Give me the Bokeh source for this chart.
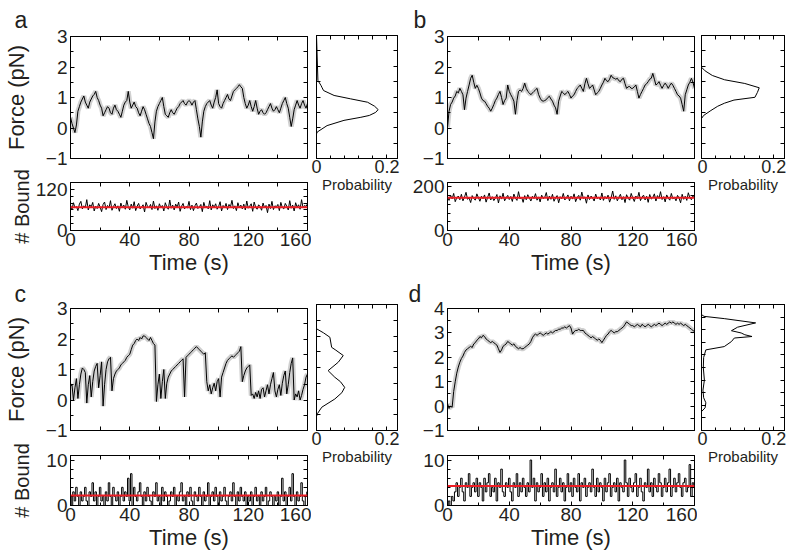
from bokeh.plotting import figure
from bokeh.models import Range1d, LinearAxis, FixedTicker, Span
from bokeh.layouts import row, column
from bokeh.embed import file_html
from bokeh.resources import INLINE

# ---------------- data ----------------
time_ticks = [0, 20, 40, 60, 80, 100, 120, 140, 160]
time_labels = [0, 40, 80, 120, 160]

a_force = [0.35, 0.15, 0.0, -0.15, 0.1, 0.55, 0.7, 0.85, 0.95, 1.05,
           0.85, 0.75, 0.65, 0.85, 0.95, 1.05, 1.1, 1.2, 1.0, 0.9,
           0.75, 0.65, 0.4, 0.5, 0.6, 0.7, 0.65, 0.5, 0.45, 0.65,
           0.75, 0.6, 0.55, 0.45, 0.35, 0.55, 0.75, 0.85, 0.9, 1.2,
           0.85, 0.65, 0.75, 0.85, 0.7, 0.65, 0.5, 0.4, 0.55, 0.7,
           0.6, 0.45, 0.3, 0.15, 0.05, -0.15, -0.35, 0.2, 0.55, 0.7,
           0.8, 0.9, 1.0, 0.7, 0.45, 0.4, 0.35, 0.5, 0.6, 0.5,
           0.45, 0.55, 0.65, 0.7, 0.8, 0.85, 0.9, 0.8, 0.75, 0.85,
           0.9, 0.85, 0.75, 0.85, 0.9, 0.6, 0.3, 0.05, -0.3, 0.2,
           0.55, 0.7, 0.8, 0.85, 0.9, 0.75, 0.65, 0.85, 1.0, 1.25,
           0.8, 0.7, 0.65, 0.8, 0.9, 1.0, 1.1, 0.95, 0.9, 1.05,
           1.2, 1.25, 1.3, 1.35, 1.42, 1.35, 1.3, 1.0, 0.8, 0.65,
           0.75, 0.9, 0.7, 0.55, 0.7, 0.9, 0.65, 0.45, 0.55, 0.6,
           0.5, 0.45, 0.5, 0.6, 0.7, 0.8, 0.65, 0.55, 0.6, 0.7,
           0.6, 0.5, 0.65, 0.8, 0.9, 1.0, 0.8, 0.65, 0.35, 0.05,
           0.3, 0.6, 0.75, 0.9, 0.75, 0.65, 0.8, 0.9, 0.75, 0.65,
           0.8]
b_force = [0.02, 0.55, 0.77, 0.85, 0.98, 1.05, 1.2, 1.15, 1.3, 1.2,
           1.09, 0.6, 0.98, 1.2, 1.41, 1.63, 1.73, 1.5, 1.3, 1.4,
           1.3, 1.15, 0.98, 0.9, 0.88, 0.8, 0.71, 0.65, 0.55, 0.65,
           0.77, 0.9, 0.98, 1.1, 1.2, 1.0, 0.77, 0.9, 0.98, 1.41,
           1.2, 1.09, 1.0, 0.88, 0.45, 0.9, 1.2, 1.25, 1.2, 1.3,
           1.47, 1.3, 1.2, 1.15, 1.09, 1.15, 1.2, 1.25, 1.3, 1.1,
           0.98, 0.9, 0.88, 0.9, 0.93, 1.0, 1.04, 0.95, 0.88, 0.75,
           0.66, 0.45, 0.88, 1.05, 1.2, 1.15, 1.09, 1.15, 1.2, 1.1,
           0.98, 1.05, 1.09, 1.2, 1.3, 1.35, 1.41, 1.3, 1.2, 1.45,
           1.63, 1.45, 1.3, 1.35, 1.41, 1.25, 1.09, 1.15, 1.2, 1.3,
           1.41, 1.5, 1.63, 1.55, 1.52, 1.6, 1.73, 1.65, 1.63, 1.6,
           1.63, 1.55, 1.52, 1.6, 1.63, 1.45, 1.3, 1.35, 1.36, 1.3,
           1.3, 1.35, 1.41, 1.2, 0.98, 1.1, 1.2, 1.3, 1.41, 1.45,
           1.52, 1.6, 1.63, 1.79, 1.6, 1.41, 1.45, 1.52, 1.4, 1.3,
           1.4, 1.47, 1.4, 1.3, 1.4, 1.47, 1.4, 1.3, 1.2, 1.09,
           1.05, 0.98, 0.77, 0.55, 1.09, 1.25, 1.41, 1.5, 1.63, 1.5,
           1.3]
c_force = [0.45, 0.5, 0.0, 0.4, 0.7, 0.05, 0.5, 0.85, 1.05, 1.0,
           0.9, -0.1, 0.5, 0.8, 0.1, 0.6, 0.95, 1.1, 1.2, 0.4,
           0.8, 1.25, -0.2, 0.5, 1.0, 1.25, 1.35, 1.4, 0.3, 0.7,
           0.85, 0.95, 1.0, 1.05, 1.15, 1.2, 1.25, 1.3, 1.4, 1.45,
           1.5, 1.65, 1.8, 1.85, 1.95, 2.0, 1.95, 2.05, 2.0, 2.1,
           2.1, 2.05, 2.0, 1.95, 2.05, 1.95, 1.85, 1.8, -0.05, 0.5,
           0.85, 0.05, 0.6, 1.0, 0.05, 0.55, 0.75, 0.85, 0.95, 1.0,
           1.05, 1.1, 1.15, 1.2, 1.25, 1.3, 1.35, 0.1, 1.4, 1.45,
           1.5, 1.55, 1.6, 1.65, 1.7, 1.75, 1.7, 1.65, 1.6, 1.55,
           1.5, 1.55, 0.6, 0.3, 0.5, 0.2, 0.4, 0.55, 0.3, 0.6,
           0.7, 0.1, 0.75, 0.9, 1.05, 1.2, 1.3, 1.35, 1.4, 1.45,
           1.4, 1.45, 1.5, 1.55, 1.6, 1.75, 0.6, 0.8, 0.95, 1.05,
           1.1, 1.15, 0.15, 0.2, 0.05, 0.25, 0.1, 0.3, 0.05, 0.35,
           0.4, 0.1, 0.3, 0.5, 0.2, 0.5, 0.7, 0.9, 0.3, 0.1,
           0.35, 0.5, 0.15, 0.55, 0.8, 0.95, 0.2, 0.5, 0.9, 1.2,
           1.38, 0.0, 0.2, 0.1, 0.3, 0.0, 0.15, 0.35, 0.5, 0.75,
           0.85]
d_force = [0.1, -0.1, 0.0, -0.05, 0.6, 1.0, 1.35, 1.6, 1.8, 1.95,
           2.05, 2.2, 2.3, 2.35, 2.4, 2.45, 2.4, 2.55, 2.6, 2.7,
           2.75, 2.85, 2.8, 2.9, 2.85, 2.75, 2.7, 2.65, 2.6, 2.65,
           2.6, 2.55, 2.5, 2.35, 2.2, 2.3, 2.45, 2.5, 2.55, 2.65,
           2.6, 2.55, 2.5, 2.55, 2.45, 2.4, 2.35, 2.4, 2.35, 2.35,
           2.4, 2.45, 2.5, 2.55, 2.65, 2.8, 2.9, 2.95, 2.9, 2.95,
           3.0, 2.95, 2.9, 2.95, 3.0, 2.95, 3.0, 3.05, 3.0, 3.05,
           3.1, 3.1, 3.15, 3.15, 3.2, 3.2, 3.25, 3.2, 3.25, 3.3,
           3.2, 2.95, 3.05, 3.1, 3.1, 3.15, 3.1, 3.1, 3.1, 3.0,
           2.95, 2.9, 2.85, 2.8, 2.85, 2.8, 2.75, 2.7, 2.75, 2.7,
           2.6, 2.7, 2.8, 2.9, 2.95, 3.05, 3.1, 3.05, 3.0, 3.05,
           3.05, 3.1, 3.15, 3.2, 3.25, 3.35, 3.45, 3.4, 3.35, 3.3,
           3.3, 3.25, 3.3, 3.35, 3.3, 3.25, 3.35, 3.3, 3.25, 3.3,
           3.35, 3.3, 3.25, 3.3, 3.35, 3.3, 3.35, 3.4, 3.35, 3.3,
           3.35, 3.4, 3.35, 3.4, 3.45, 3.4, 3.45, 3.4, 3.35, 3.4,
           3.35, 3.4, 3.35, 3.3, 3.35, 3.3, 3.25, 3.2, 3.15, 3.1,
           3.05]

a_bound = [74, 62, 81, 66, 70, 58, 77, 85, 63, 72, 67, 90, 60, 75, 69, 82, 57, 71, 64, 79,
           68, 55, 76, 83, 61, 73, 66, 87, 59, 70, 78, 64, 72, 56, 80, 67, 74, 62, 88, 69,
           60, 77, 65, 84, 58, 71, 79, 63, 68, 75, 54, 82, 70, 66, 76, 61, 86, 64, 72, 59,
           78, 67, 73, 57, 81, 69, 62, 89, 65, 74, 60, 77, 68, 83, 56, 71, 79, 63, 70, 66,
           85, 61, 74, 58, 72, 80, 64, 69, 76, 55, 82, 67, 71, 63, 87, 60, 75, 68, 78, 62,
           70, 84, 57, 73, 66, 79, 61, 76, 69, 88, 64, 72, 58, 81, 67, 74, 63, 77, 60, 86,
           65, 71, 78, 56, 83, 68, 62, 75, 70, 59, 80, 66, 73, 52, 77, 64, 85, 61, 72, 69,
           76, 58, 82, 67, 63, 79, 71, 60, 87, 65, 74, 57, 81, 68, 75, 62, 90, 66, 73, 70,
           78]
b_bound = [155, 138, 162, 145, 170, 132, 150, 158, 141, 166, 136, 153, 175, 143, 149, 128, 160, 147, 139, 168,
           151, 134, 157, 146, 163, 130, 152, 172, 140, 155, 137, 148, 165, 126, 159, 144, 171, 136, 150, 161,
           142, 156, 133, 167, 148, 138, 178, 145, 153, 129, 160, 141, 164, 150, 135, 157, 147, 169, 139, 154,
           131, 162, 146, 152, 174, 137, 158, 143, 166, 134, 150, 160, 127, 155, 145, 170, 140, 149, 163, 136,
           157, 144, 168, 132, 151, 161, 139, 176, 147, 154, 125, 163, 142, 158, 149, 135, 167, 146, 153, 140,
           172, 138, 156, 145, 162, 130, 150, 181, 143, 159, 136, 152, 166, 141, 155, 128, 164, 148, 139, 170,
           149, 133, 158, 146, 175, 137, 153, 162, 140, 157, 129, 165, 144, 151, 168, 135, 160, 147, 178, 142,
           155, 131, 163, 148, 139, 170, 145, 152, 136, 161, 149, 127, 166, 143, 157, 138, 173, 150, 141, 160,
           152]
c_bound = [2, 0, 3, 1, 4, 2, 0, 3, 1, 2, 4, 1, 0, 3, 2, 5, 1, 3, 0, 2,
           4, 1, 2, 0, 3, 1, 5, 2, 0, 4, 2, 1, 3, 0, 2, 4, 1, 3, 2, 6,
           1, 7, 0, 4, 2, 1, 3, 5, 2, 0, 3, 1, 4, 2, 1, 0, 3, 2, 5, 1,
           2, 0, 4, 1, 3, 2, 0, 1, 3, 2, 4, 0, 2, 1, 3, 5, 1, 2, 0, 3,
           2, 4, 1, 0, 3, 2, 1, 4, 2, 0, 3, 1, 2, 5, 0, 2, 3, 1, 4, 2,
           0, 3, 1, 2, 4, 1, 0, 2, 3, 1, 5, 2, 0, 3, 1, 4, 2, 1, 3, 0,
           2, 1, 3, 0, 2, 4, 1, 2, 0, 3, 1, 2, 4, 0, 1, 3, 2, 0, 2, 1,
           3, 0, 2, 6, 1, 3, 0, 2, 4, 1, 7, 2, 0, 3, 1, 2, 5, 1, 0, 2,
           3]
d_bound = [0, 1, 0, 2, 1, 3, 5, 2, 4, 6, 3, 1, 5, 4, 7, 2, 4, 5, 3, 6,
           2, 5, 4, 1, 6, 3, 5, 7, 2, 4, 3, 6, 1, 5, 4, 8, 3, 2, 5, 4,
           6, 3, 1, 5, 4, 7, 2, 5, 3, 6, 4, 2, 5, 3, 10, 4, 6, 1, 5, 3,
           4, 7, 2, 5, 3, 6, 1, 4, 5, 3, 8, 2, 4, 6, 3, 5, 1, 4, 7, 3,
           5, 2, 6, 4, 3, 7, 1, 5, 4, 6, 2, 4, 5, 3, 8, 4, 2, 6, 3, 5,
           4, 1, 6, 3, 5, 7, 2, 4, 5, 3, 6, 1, 5, 4, 3, 10, 5, 2, 6, 4,
           3, 5, 7, 2, 4, 6, 3, 1, 5, 4, 8, 3, 5, 2, 6, 4, 3, 7, 5, 2,
           4, 6, 3, 5, 8, 2, 4, 6, 3, 5, 7, 4, 2, 5, 6, 3, 4, 9, 2, 5,
           4]
a_bound_mean = 68
b_bound_mean = 150
c_bound_mean = 2.2
d_bound_mean = 4.3

a_hist_force = [-1.0, -0.2, -0.14, 0.07, 0.24, 0.34, 0.40, 0.50, 0.59, 0.70, 0.83, 0.94, 1.05, 1.21, 1.30, 1.37, 1.54, 3.0]
a_hist_prob = [0, 0, 0.002, 0.03, 0.078, 0.126, 0.15, 0.168, 0.175, 0.165, 0.145, 0.097, 0.05, 0.02, 0.016, 0.013, 0.004, 0]
b_hist_force = [-1.0, 0.30, 0.40, 0.56, 0.70, 0.80, 0.90, 0.99, 1.15, 1.30, 1.44, 1.56, 1.70, 1.85, 1.97, 3.0]
b_hist_prob = [0, 0, 0.006, 0.026, 0.045, 0.064, 0.09, 0.148, 0.155, 0.16, 0.12, 0.064, 0.03, 0.01, 0, 0]
c_hist_force = [-1.0, -0.55, -0.46, -0.26, 0.0, 0.2, 0.37, 0.55, 0.69, 0.9, 1.17, 1.38, 1.55, 1.64, 1.96, 2.1, 2.23, 3.0]
c_hist_prob = [0, 0, 0.003, 0.015, 0.052, 0.072, 0.08, 0.068, 0.052, 0.033, 0.062, 0.076, 0.055, 0.043, 0.038, 0.02, 0, 0]
d_hist_force = [-1.0, -0.25, -0.1, 0.1, 0.3, 0.6, 1.0, 1.5, 1.9, 2.2, 2.33, 2.53, 2.67, 2.73, 2.80, 2.87, 2.96, 3.1, 3.27, 3.44, 3.53, 3.6, 4.0]
d_hist_prob = [0, 0, 0.01, 0.012, 0.006, 0.004, 0.008, 0.005, 0.006, 0.012, 0.063, 0.083, 0.091, 0.14, 0.12, 0.11, 0.083, 0.1, 0.15, 0.063, 0.007, 0, 0]

# ---------------- style ----------------
FONT = "Liberation Sans"
TXT = "#231f20"
RED = "#ed1c24"
GREY = "#c4c4c4"

COLS = [dict(fw=311, fbl=61, fbr=4, hw=90, hbl=5, hbr=4),
        dict(fw=296, fbl=46, fbr=3, hw=89, hbl=4, hbr=2)]
ROWS = [dict(fh=169, fbt=35, fbb=11, bh=108, bbt=13, bbb=47, hh=277, hbt=35, hbb=119, tsd=8),
        dict(fh=164, fbt=27, fbb=11, bh=115, bbt=14, bbb=51, hh=279, hbt=27, hbb=126, tsd=3)]


def base_fig(w, h, bl, br, bt, bb, xr, yr):
    p = figure(width=w, height=h, x_range=Range1d(*xr), y_range=Range1d(*yr),
               output_backend="svg", toolbar_location=None, tools="",
               min_border_left=bl, min_border_right=br,
               min_border_top=bt, min_border_bottom=bb)
    p.xgrid.visible = False
    p.ygrid.visible = False
    p.outline_line_color = "black"
    p.outline_line_alpha = 1
    p.outline_line_width = 1
    p.background_fill_color = "white"
    p.border_fill_color = "white"
    p.add_layout(LinearAxis(), "right")
    p.add_layout(LinearAxis(), "above")
    return p


def set_ax(ax, ticks, minor, show, fs="19px", standoff=3, overrides=None):
    ax.major_tick_in = 4
    ax.major_tick_out = 0
    ax.minor_tick_out = 0
    ax.major_tick_line_color = "black"
    ax.minor_tick_line_color = "black"
    ax.axis_line_color = "black"
    ax.major_label_text_font = FONT
    ax.major_label_text_color = TXT
    if show:
        ax.ticker = FixedTicker(ticks=ticks, minor_ticks=minor)
        ax.minor_tick_in = 3
        ax.major_label_text_font_size = fs
        ax.major_label_standoff = standoff
        if overrides:
            ax.major_label_overrides = overrides
    else:
        # unlabeled side: every tick drawn as a minor tick, so no label texts exist
        ax.ticker = FixedTicker(ticks=[], minor_ticks=sorted(list(ticks) + list(minor)))
        ax.minor_tick_in = 4
        ax.major_label_standoff = 0


def set_label(ax, text, size, standoff):
    ax.axis_label = text
    ax.axis_label_text_font = FONT
    ax.axis_label_text_font_size = size
    ax.axis_label_text_font_style = "normal"
    ax.axis_label_text_color = TXT
    ax.axis_label_standoff = standoff


def panel(letter, loff, force, hf, hp, bound, bmean, fyr, fyt, fym, byr, byt, bym,
          ci, ri, f_lab_sd, b_lab_sd, steps):
    C, R = COLS[ci], ROWS[ri]
    t = list(range(len(force)))
    tb = list(range(len(bound)))
    # force trace
    f = base_fig(C["fw"], R["fh"], C["fbl"], C["fbr"], R["fbt"], R["fbb"], (0, 160), fyr)
    f.line(t, force, line_color=GREY, line_width=5, line_alpha=0.8)
    f.line(t, force, line_color="black", line_width=1)
    set_ax(f.left[0], fyt, fym, True)
    set_ax(f.right[0], fyt, fym, False)
    set_ax(f.below[0], time_ticks, [], False)
    set_ax(f.above[0], time_ticks, [], False)
    if ci == 0:
        set_label(f.left[0], "Force (pN)", "22px", f_lab_sd)
    f.title.text = letter
    f.title.align = "left"
    f.title.offset = loff
    f.title.standoff = R["tsd"]
    f.title.text_font = FONT
    f.title.text_font_size = "23px"
    f.title.text_font_style = "normal"
    f.title.text_color = TXT
    # bound trace
    b = base_fig(C["fw"], R["bh"], C["fbl"], C["fbr"], R["bbt"], R["bbb"], (0, 160), byr)
    if steps:
        b.step(tb, bound, mode="center", line_color="black", line_width=1)
    else:
        b.line(tb, bound, line_color="black", line_width=1)
    b.add_layout(Span(location=bmean, dimension="width", line_color=RED, line_width=2))
    set_ax(b.left[0], byt, bym, True)
    set_ax(b.right[0], byt, bym, False)
    set_ax(b.below[0], time_labels, [20, 60, 100, 140], True, standoff=2)
    set_ax(b.above[0], time_labels, [20, 60, 100, 140], False)
    set_label(b.below[0], "Time (s)", "22px", 1)
    if ci == 0:
        set_label(b.left[0], "# Bound", "20px", b_lab_sd)
    # histogram
    h = base_fig(C["hw"], R["hh"], C["hbl"], C["hbr"], R["hbt"], R["hbb"], (0, 0.23), fyr)
    h.line(hp, hf, line_color="black", line_width=1)
    set_ax(h.below[0], [0, 0.2], [0.04, 0.08, 0.12, 0.16], True, fs="18px", standoff=1,
           overrides={0: "0", 0.2: "0.2"})
    set_ax(h.above[0], [0, 0.2], [0.04, 0.08, 0.12, 0.16], False)
    set_ax(h.left[0], fyt, fym, False)
    set_ax(h.right[0], fyt, fym, False)
    set_label(h.below[0], "Probability", "15px", 0)
    return row(column(f, b), h)


f_ticks3 = [-1, 0, 1, 2, 3]
f_minor3 = [-0.5, 0.5, 1.5, 2.5]
f_ticks4 = [-1, 0, 1, 2, 3, 4]
f_minor4 = [-0.5, 0.5, 1.5, 2.5, 3.5]

pa = panel("a", -56, a_force, a_hist_force, a_hist_prob, a_bound, a_bound_mean,
           (-1, 3), f_ticks3, f_minor3, (0, 140), [0, 120], [20, 40, 60, 80, 100],
           0, 0, 14, 0, False)
pb = panel("b", -34, b_force, b_hist_force, b_hist_prob, b_bound, b_bound_mean,
           (-1, 3), f_ticks3, f_minor3, (0, 220), [0, 200], [40, 80, 120, 160],
           1, 0, 14, 0, False)
pc = panel("c", -56, c_force, c_hist_force, c_hist_prob, c_bound, c_bound_mean,
           (-1, 3), f_ticks3, f_minor3, (0, 11), [0, 10], [2, 4, 6, 8],
           0, 1, 14, 10, True)
pd = panel("d", -39, d_force, d_hist_force, d_hist_prob, d_bound, d_bound_mean,
           (-1, 4), f_ticks4, f_minor4, (0, 11), [0, 10], [2, 4, 6, 8],
           1, 1, 14, 10, True)

layout = column(row(pa, pb), row(pc, pd))

open("out.html", "w").write(file_html(layout, INLINE))
